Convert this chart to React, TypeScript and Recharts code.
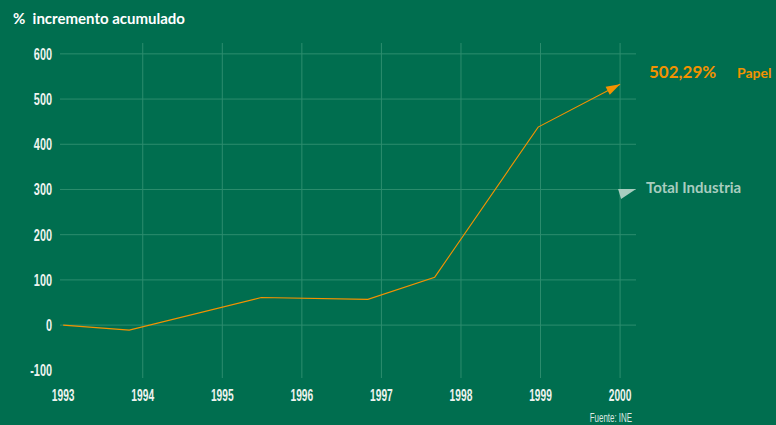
import { LineChart, Line, XAxis, YAxis, ReferenceLine, ReferenceDot } from 'recharts'

// x positions are fractional years
const papelX = [1993, 1993.83, 1995.49, 1996.83, 1997.67, 1998.97, 2000]
const papelY = [0, -11, 61, 57, 106, 438, 533]

const yearTicks = [1993, 1994, 1995, 1996, 1997, 1998, 1999, 2000]
const gridYears = [1994, 1995, 1996, 1997, 1998, 1999, 2000]
const valueTicks = [-100, 0, 100, 200, 300, 400, 500, 600]
const gridValues = [0, 100, 200, 300, 400, 500, 600]

const totalIndustriaEnd = { x: 2000, y: 292 }

const BG = '#006e4f'
const GRID = '#2c8d6e'
const ORANGE = '#f39200'
const PALE = '#a8cdbf'
const TICK_FILL = '#eef3ef'
const TICK_FONT = '"Liberation Sans", Arial, sans-serif'
const LABEL_FONT = 'Lato, "Open Sans", sans-serif'

const data = papelX.map((x, i) => ({ x, papel: papelY[i] }))

// the original uses a condensed face, so squeeze the glyphs horizontally
function NarrowTick(props: any) {
  const { x, y, payload, textAnchor, dy, squeeze = 0.65 } = props
  return (
    <text
      transform={`translate(${x},${y}) scale(${squeeze},1)`}
      x={0}
      y={0}
      dy={dy ?? '0.355em'}
      textAnchor={textAnchor}
      fill={TICK_FILL}
      fontSize={16.5}
      fontWeight={600}
      fontFamily={TICK_FONT}
    >
      {payload.value}
    </text>
  )
}

function ArrowDot(props: any) {
  const { cx, cy, index, points } = props
  if (index !== papelX.length - 1) return <g key={`d${index}`} />
  let angle = -28
  if (points && points.length > 1) {
    const p = points[points.length - 2]
    angle = (Math.atan2(cy - p.y, cx - p.x) * 180) / Math.PI
  }
  return (
    <g key={`d${index}`} transform={`translate(${cx},${cy}) rotate(${angle})`}>
      <polygon points="0,0 -14,-4.5 -14,4.5" fill={ORANGE} />
    </g>
  )
}

function PaleArrow(props: any) {
  const { cx, cy } = props
  return <polygon points={`${cx - 2},${cy - 4} ${cx + 1},${cy + 6} ${cx + 16},${cy - 4}`} fill={PALE} />
}

export default function App() {
  return (
    <div
      style={{
        position: 'absolute',
        left: 0,
        top: 0,
        width: 776,
        height: 425,
        background: BG,
        overflow: 'hidden',
      }}
    >
      <LineChart
        width={776}
        height={425}
        data={data}
        margin={{ top: 43, right: 140, bottom: 17, left: 0 }}
      >
        <XAxis
          dataKey="x"
          type="number"
          domain={[1992.96, 2000.2]}
          ticks={yearTicks}
          allowDataOverflow
          height={30}
          axisLine={false}
          tickLine={false}
          tickMargin={5}
          tick={<NarrowTick dy="0.71em" squeeze={0.62} />}
        />
        <YAxis
          type="number"
          domain={[-117, 624]}
          ticks={valueTicks}
          allowDataOverflow
          width={60}
          axisLine={false}
          tickLine={false}
          tick={<NarrowTick squeeze={0.66} />}
        />
        {gridValues.map((v) => (
          <ReferenceLine key={`h${v}`} y={v} stroke={GRID} strokeWidth={1} />
        ))}
        {gridYears.map((y) => (
          <ReferenceLine key={`v${y}`} x={y} stroke={GRID} strokeWidth={1} />
        ))}
        <ReferenceDot
          x={totalIndustriaEnd.x}
          y={totalIndustriaEnd.y}
          r={0}
          shape={PaleArrow}
        />
        <Line
          type="linear"
          dataKey="papel"
          stroke={ORANGE}
          strokeWidth={1.1}
          dot={ArrowDot}
          activeDot={false}
          isAnimationActive={false}
        />
      </LineChart>

      <div style={{ position: 'absolute', left: 13, top: 11, color: '#ffffff', fontFamily: LABEL_FONT, fontWeight: 700, fontSize: 15, lineHeight: 1, whiteSpace: 'nowrap' }}>
        %&nbsp; incremento acumulado
      </div>
      <div style={{ position: 'absolute', left: 649, top: 63, color: ORANGE, fontFamily: LABEL_FONT, fontWeight: 700, fontSize: 17, lineHeight: 1, whiteSpace: 'nowrap' }}>
        502,29%
      </div>
      <div style={{ position: 'absolute', left: 737, top: 66, color: ORANGE, fontFamily: LABEL_FONT, fontWeight: 700, fontSize: 14, lineHeight: 1, whiteSpace: 'nowrap' }}>
        Papel
      </div>
      <div style={{ position: 'absolute', left: 646, top: 180, color: PALE, fontFamily: LABEL_FONT, fontWeight: 700, fontSize: 15, lineHeight: 1, whiteSpace: 'nowrap' }}>
        Total Industria
      </div>
      <div style={{ position: 'absolute', right: 144, top: 412, color: '#dfe9e3', fontFamily: TICK_FONT, fontSize: 12, lineHeight: 1, whiteSpace: 'nowrap', transform: 'scaleX(0.66)', transformOrigin: 'right center' }}>
        Fuente: INE
      </div>
    </div>
  )
}
